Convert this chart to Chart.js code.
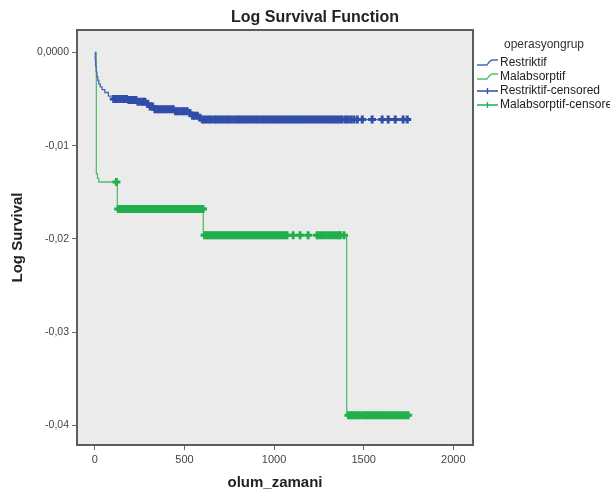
<!DOCTYPE html>
<html>
<head>
<meta charset="utf-8">
<script src="https://cdn.jsdelivr.net/npm/chart.js@4.4.1/dist/chart.umd.min.js"></script>
<style>
  html, body { margin: 0; padding: 0; background: #fff; }
  canvas { display: block; }
</style>
</head>
<body>
<canvas id="chart" width="610" height="493"></canvas>
<script>
// event times / log survival
const restriktifTimes = [0, 2, 4, 7, 11, 16, 22, 30, 40, 55, 75, 100, 180, 240, 280, 300, 330, 450, 520, 545, 575, 600, 1743];
const restriktifLog = [0, -0.0008, -0.0015, -0.0021, -0.0026, -0.0030, -0.0034, -0.0037, -0.0040, -0.0043, -0.0047, -0.0050,
  -0.0051, -0.0053, -0.0055, -0.0058, -0.0061, -0.0063, -0.0065, -0.0068, -0.0070, -0.0072, -0.0072];

const malabsorptifTimes = [0, 8, 14, 22, 125, 605, 1405, 1748];
const malabsorptifLog = [0, -0.0130, -0.0135, -0.0139, -0.0168, -0.0196, -0.0389, -0.0389];

// censored times
const restriktifCensored = [105, 118, 130, 141, 155, 168, 176, 190, 204, 215, 229, 240, 256, 268, 279, 295, 308, 322, 335, 347,
  360, 374, 385, 398, 410, 425, 437, 450, 463, 478, 490, 503, 515, 530, 545, 558, 572, 586, 600, 612, 626, 639, 652, 668, 680,
  694, 708, 720, 735, 748, 760, 775, 789, 802, 815, 830, 842, 856, 870, 884, 897, 910, 925, 938, 951, 965, 979, 992, 1006, 1019,
  1033, 1046, 1060, 1074, 1088, 1101, 1115, 1129, 1142, 1156, 1170, 1184, 1198, 1212, 1226, 1240, 1254, 1268, 1282, 1296, 1310,
  1324, 1338, 1352, 1366, 1380, 1398, 1412, 1428, 1445, 1464, 1492, 1547, 1603, 1637, 1676, 1720, 1743];
const malabsorptifCensored = [120, 130, 140, 152, 163, 175, 186, 198, 210, 221, 233, 245, 256, 268, 279, 291, 303, 314, 326, 338,
  349, 361, 373, 384, 396, 408, 419, 431, 443, 454, 466, 478, 489, 501, 513, 524, 536, 548, 559, 571, 583, 594, 603,
  612, 622, 633, 645, 656, 668, 679, 691, 702, 714, 725, 737, 748, 760, 771, 783, 794, 806, 817, 829, 840, 852, 863, 875, 886,
  898, 909, 921, 932, 944, 955, 967, 978, 990, 1001, 1013, 1024, 1036, 1047, 1060, 1072, 1106, 1145, 1190, 1240, 1255, 1270,
  1285, 1300, 1315, 1330, 1345, 1360, 1369, 1390,
  1415, 1428, 1440, 1455, 1468, 1480, 1495, 1510, 1522, 1536, 1550, 1563, 1578, 1592, 1605, 1620, 1634, 1648, 1662, 1676, 1690,
  1705, 1720, 1735, 1748];

const xTicks = [0, 500, 1000, 1500, 2000];
const xTickLabels = ['0', '500', '1000', '1500', '2000'];
const yTicks = [0, -0.01, -0.02, -0.03, -0.04];
const yTickLabels = ['0,0000', '-0,01', '-0,02', '-0,03', '-0,04'];

const groupNames = ['Restriktif', 'Malabsorptif'];
const legendTitle = 'operasyongrup';

const BLUE = '#2f4eaa';
const BLUE_LINE = '#4c64b8';
const GREEN = '#20b04b';
const GREEN_LINE = '#55bd72';
const FONT = '"Liberation Sans", Arial, sans-serif';

const toPoints = (times, vals) => times.map((t, i) => ({ x: t, y: vals[i] }));

const valueAt = (times, vals, t) => {
  let v = vals[0];
  times.forEach((tt, i) => { if (tt <= t) v = vals[i]; });
  return v;
};

const censoredPoints = (cens, times, vals) => cens.map((t) => ({ x: t, y: valueAt(times, vals, t) }));

const framePlugin = {
  id: 'frame',
  beforeDatasetsDraw(chart) {
    const { ctx, chartArea: a } = chart;
    ctx.save();
    ctx.fillStyle = '#ebebeb';
    ctx.fillRect(a.left, a.top, a.right - a.left, a.bottom - a.top);
    ctx.restore();
  },
  afterDatasetsDraw(chart) {
    const { ctx, chartArea: a } = chart;
    ctx.save();
    ctx.strokeStyle = '#5c5c5c';
    ctx.lineWidth = 2;
    ctx.strokeRect(a.left, a.top, a.right - a.left, a.bottom - a.top);
    ctx.restore();
  },
  afterDraw(chart) {
    const { ctx } = chart;
    ctx.save();
    ctx.fillStyle = '#222';
    ctx.textAlign = 'center';
    ctx.textBaseline = 'middle';
    ctx.font = `bold 16px ${FONT}`;
    ctx.fillText('Log Survival Function', 315, 18);

    // legend
    ctx.font = `12px ${FONT}`;
    ctx.fillStyle = '#333';
    ctx.fillText(legendTitle, 544, 45);
    ctx.textAlign = 'left';
    const items = [
      [groupNames[0], BLUE_LINE, false],
      [groupNames[1], GREEN_LINE, false],
      [groupNames[0] + '-censored', BLUE, true],
      [groupNames[1] + '-censored', GREEN, true],
    ];
    items.forEach(([label, color, cross], i) => {
      const y = 63 + i * 14;
      ctx.strokeStyle = color;
      ctx.lineWidth = 1.3;
      ctx.beginPath();
      if (cross) {
        ctx.moveTo(477, y);
        ctx.lineTo(498, y);
        ctx.moveTo(487.5, y - 3);
        ctx.lineTo(487.5, y + 3);
      } else {
        ctx.moveTo(477, y + 2);
        ctx.lineTo(487, y + 2);
        ctx.quadraticCurveTo(490, y - 3, 493, y - 3);
        ctx.lineTo(498, y - 3);
      }
      ctx.stroke();
      ctx.fillStyle = '#222';
      ctx.fillText(label, 500, y);
    });
    ctx.restore();
  },
};

new Chart(document.getElementById('chart'), {
  type: 'scatter',
  data: {
    datasets: [
      {
        label: groupNames[0] + '-censored',
        data: censoredPoints(restriktifCensored, restriktifTimes, restriktifLog),
        pointStyle: 'cross',
        pointRadius: 4,
        pointBorderWidth: 3,
        borderColor: BLUE,
        showLine: false,
        order: 0,
      },
      {
        label: groupNames[1] + '-censored',
        data: censoredPoints(malabsorptifCensored, malabsorptifTimes, malabsorptifLog),
        pointStyle: 'cross',
        pointRadius: 4,
        pointBorderWidth: 3,
        borderColor: GREEN,
        showLine: false,
        order: 0,
      },
      {
        label: groupNames[0],
        data: toPoints(restriktifTimes, restriktifLog),
        showLine: true,
        stepped: true,
        borderColor: BLUE_LINE,
        borderWidth: 1.3,
        pointRadius: 0,
        order: 1,
      },
      {
        label: groupNames[1],
        data: toPoints(malabsorptifTimes, malabsorptifLog),
        showLine: true,
        stepped: true,
        borderColor: GREEN_LINE,
        borderWidth: 1.3,
        pointRadius: 0,
        order: 1,
      },
    ],
  },
  options: {
    responsive: false,
    animation: false,
    devicePixelRatio: 1,
    layout: { padding: { top: 30, right: 137, left: 0, bottom: 0 } },
    plugins: {
      legend: { display: false },
      title: { display: false },
      tooltip: { enabled: false },
    },
    scales: {
      x: {
        type: 'linear',
        min: -100,
        max: 2110,
        afterFit: (scale) => { scale.height = 48; },
        afterBuildTicks: (scale) => { scale.ticks = xTicks.map((v) => ({ value: v })); },
        ticks: {
          color: '#444',
          font: { family: FONT, size: 11 },
          padding: 3,
          callback: (v) => xTickLabels[xTicks.indexOf(v)],
        },
        grid: { display: true, drawOnChartArea: false, drawTicks: true, tickLength: 5, color: '#666', lineWidth: 1 },
        border: { display: false },
        title: {
          display: true,
          text: 'olum_zamani',
          color: '#222',
          font: { family: FONT, size: 15, weight: 'bold' },
          padding: { top: 0, bottom: 1 },
        },
      },
      y: {
        type: 'linear',
        min: -0.0421,
        max: 0.0024,
        afterFit: (scale) => { scale.width = 77; },
        afterBuildTicks: (scale) => { scale.ticks = yTicks.map((v) => ({ value: v })); },
        ticks: {
          color: '#444',
          font: { family: FONT, size: 10.5 },
          padding: 3,
          callback: (v) => yTickLabels[yTicks.indexOf(v)],
        },
        grid: { display: true, drawOnChartArea: false, drawTicks: true, tickLength: 5, color: '#666', lineWidth: 1 },
        border: { display: false },
        title: {
          display: true,
          text: 'Log Survival',
          color: '#222',
          font: { family: FONT, size: 15, weight: 'bold' },
          padding: { top: 9, bottom: 0 },
        },
      },
    },
  },
  plugins: [framePlugin],
});
</script>
</body>
</html>
